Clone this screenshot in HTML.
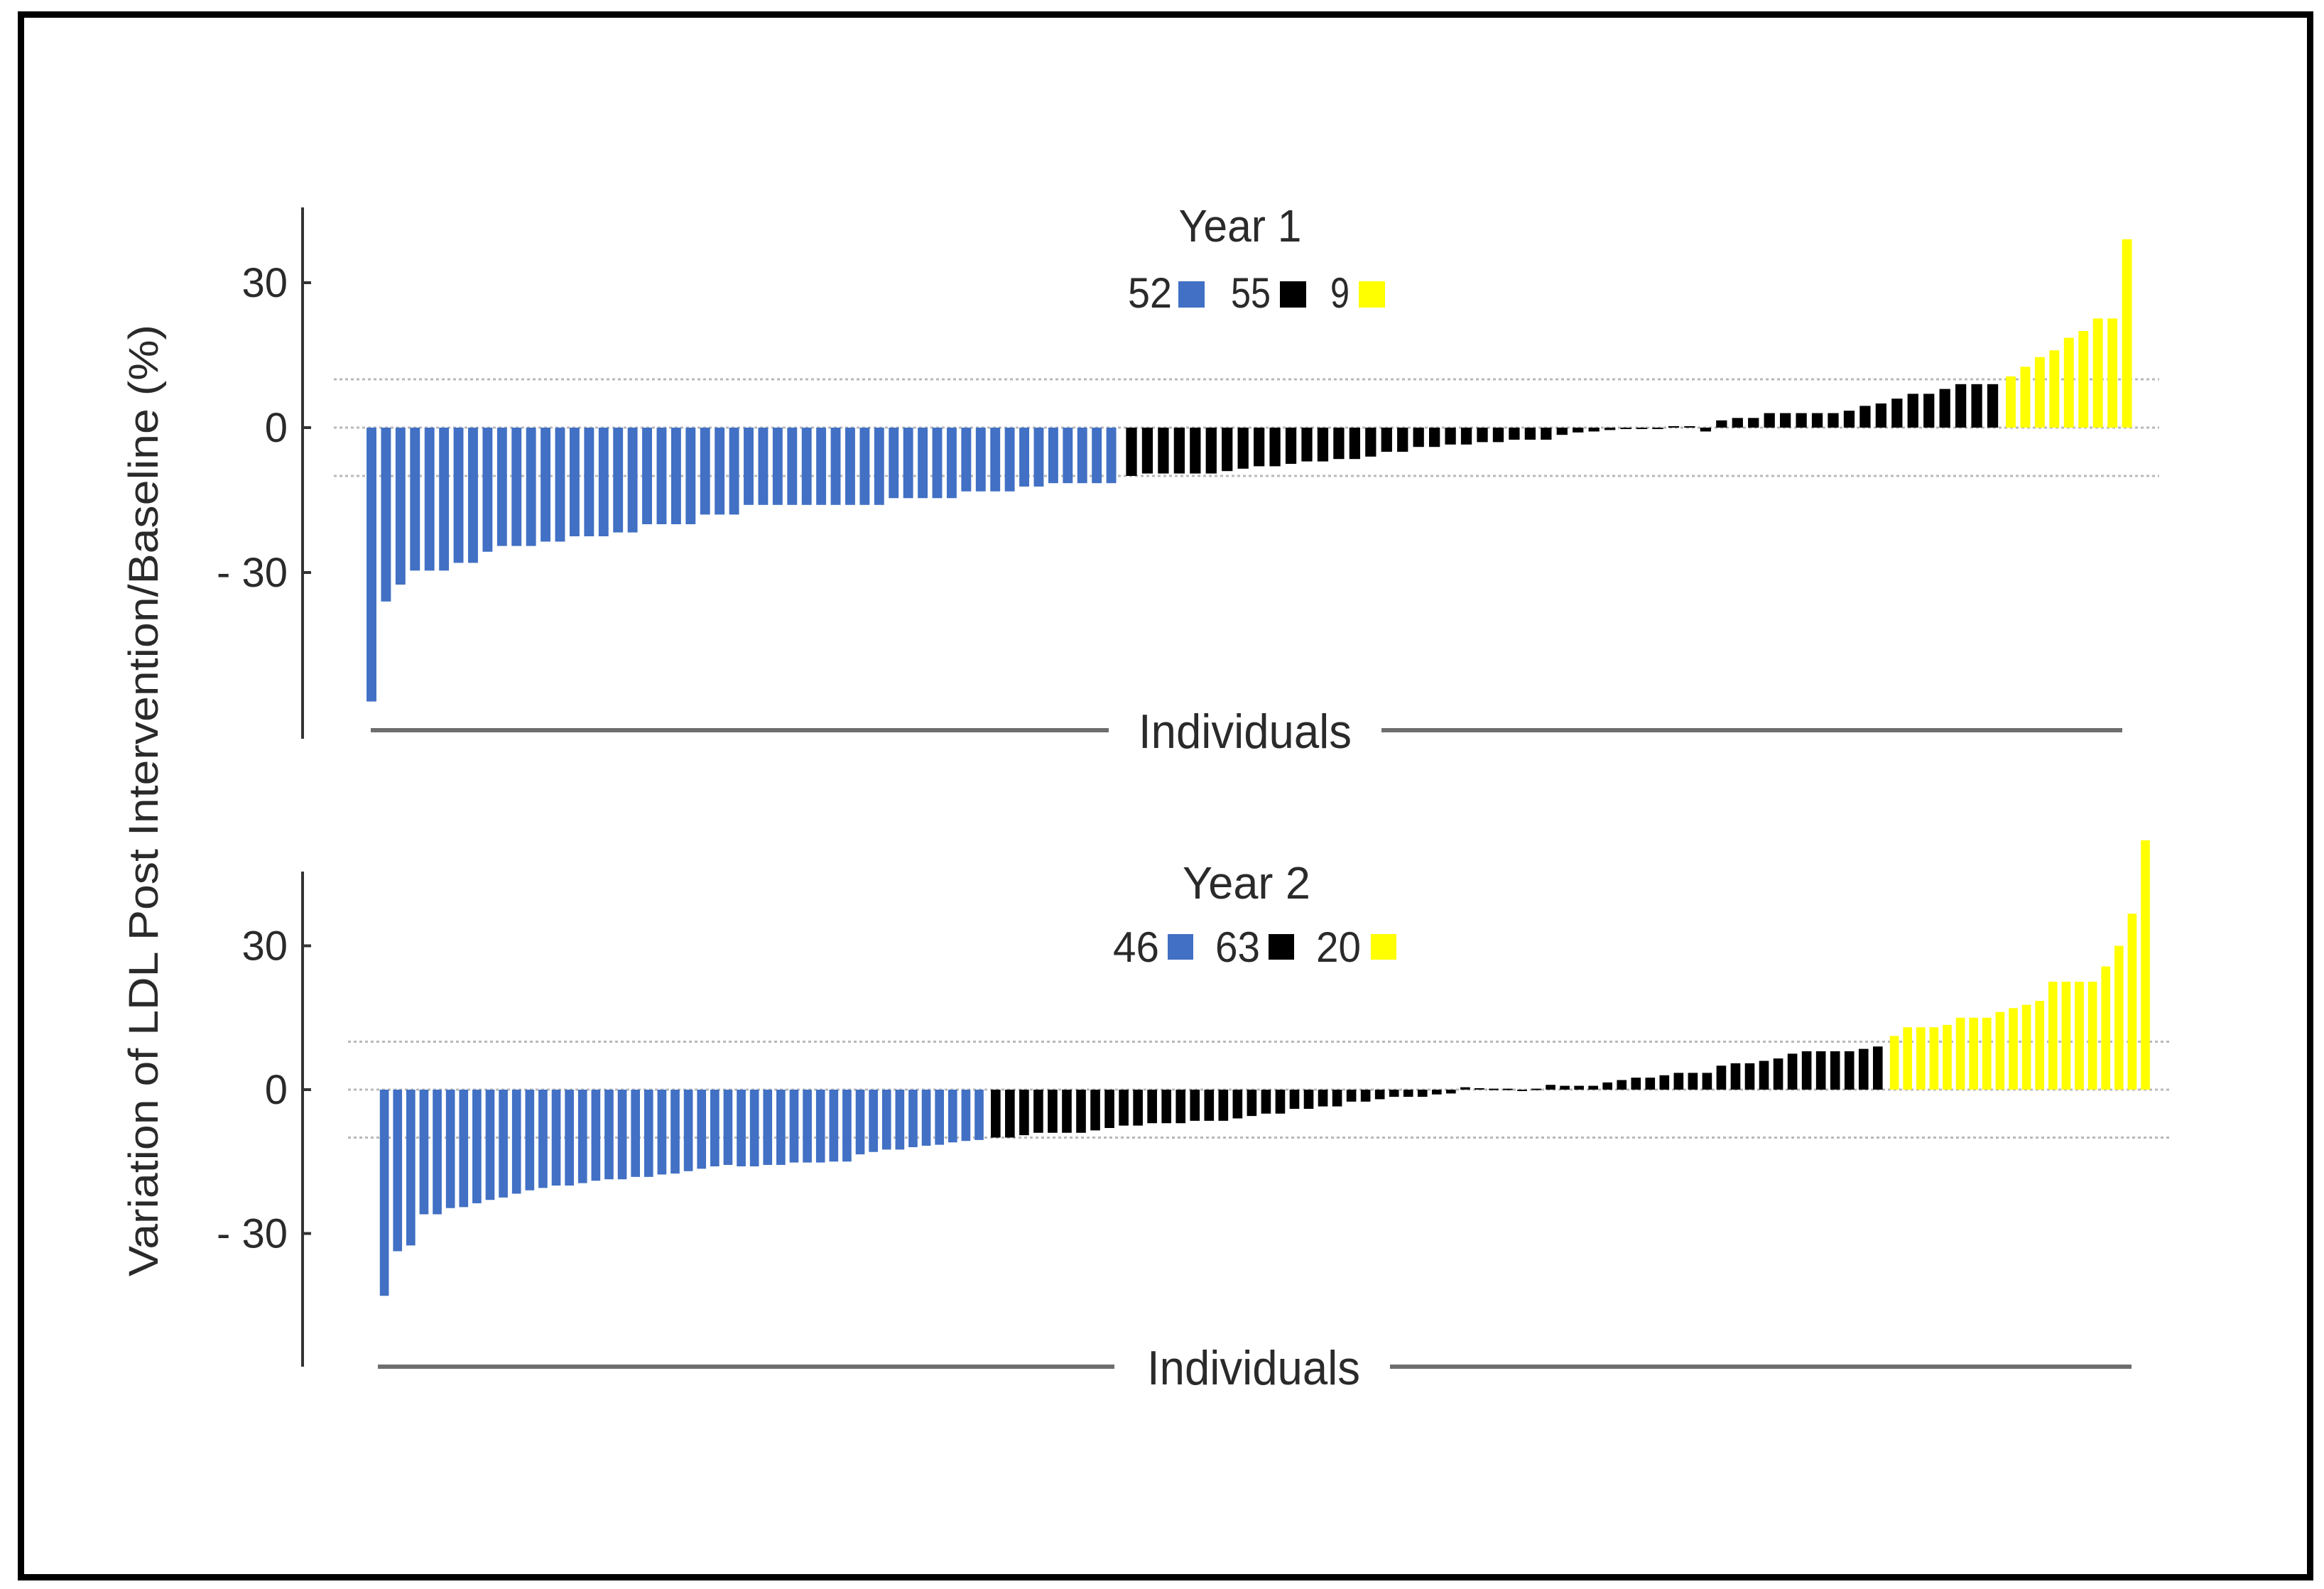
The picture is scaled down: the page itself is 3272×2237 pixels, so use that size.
<!DOCTYPE html>
<html><head><meta charset="utf-8"><style>
html,body{margin:0;padding:0;background:#fff}
svg{display:block}
text{font-family:"Liberation Sans",sans-serif;fill:#2a2a2a}
</style></head><body>
<svg id="chart" width="3272" height="2237" viewBox="0 0 3272 2237" xmlns="http://www.w3.org/2000/svg">
<rect x="29.5" y="20.5" width="3223" height="2200" fill="none" stroke="#000" stroke-width="9"/>
<text transform="translate(222,1127) rotate(-90)" text-anchor="middle" font-size="58" textLength="1340" lengthAdjust="spacingAndGlyphs">Variation of LDL Post Intervention/Baseline (%)</text>
<g id="p1"></g>
<g id="p2"></g>
</svg>
<script>
const year1Blue=[-56.7,-36,-32.5,-29.6,-29.6,-29.6,-28,-28,-25.7,-24.5,-24.5,-24.5,-23.6,-23.6,-22.5,-22.5,-22.5,-21.7,-21.7,-20,-20,-20,-20,-18,-18,-18,-16,-16,-16,-16,-16,-16,-16,-16,-16,-16,-14.6,-14.6,-14.6,-14.6,-14.6,-13.2,-13.2,-13.2,-13.2,-12.2,-12.2,-11.5,-11.5,-11.5,-11.5,-11.5];
const year1Black=[-10,-9.5,-9.5,-9.5,-9.5,-9.5,-9,-8.5,-8,-8,-7.5,-7,-7,-6.5,-6.5,-6,-5,-5,-4,-4,-3.5,-3.5,-3,-3,-2.5,-2.5,-2.5,-1.5,-1,-0.8,-0.5,-0.3,-0.3,-0.3,0.3,0.3,-0.8,1.5,2,2,3,3,3,3,3,3.5,4.5,5,6,7,7,8,9,9,9];
const year1Yellow=[10.6,12.6,14.6,16,18.6,20,22.6,22.6,39];
const year2Blue=[-43,-33.7,-32.5,-26,-26,-24.7,-24.5,-23.7,-23,-22.5,-21.7,-21,-20.5,-20,-20,-19.5,-19,-18.7,-18.7,-18.2,-18.2,-17.7,-17.5,-17,-16.5,-16,-15.7,-16,-16,-15.7,-15.7,-15.2,-15.2,-15.2,-15,-15,-13.5,-13,-12.5,-12.5,-12,-11.7,-11.5,-11,-10.7,-10.5];
const year2Black=[-10,-10,-9.5,-9,-9,-9,-9,-8.5,-8,-7.5,-7.5,-7,-7,-7,-6.5,-6.5,-6.5,-6,-5.5,-5,-5,-4,-4,-3.5,-3.5,-2.5,-2.5,-2,-1.5,-1.5,-1.5,-1,-0.8,0.5,0.3,0.2,0.2,-0.3,0.2,1,0.8,0.8,0.8,1.5,2,2.5,2.5,3,3.5,3.5,3.5,5,5.5,5.5,6,6.5,7.5,8,8,8,8,8.5,9];
const year2Yellow=[11.2,13,13,13,13.5,15,15,15,16.2,17,17.7,18.5,22.5,22.5,22.5,22.5,25.7,30,36.7,52];
const yTicks=[30,0,-30];
const yTickLabels=["30","0","- 30"];
const panelTitles=["Year 1","Year 2"];

const NS="http://www.w3.org/2000/svg";
function mk(parent,tag,attrs,txt){const e=document.createElementNS(NS,tag);for(const k in attrs)e.setAttribute(k,attrs[k]);if(txt!==undefined)e.textContent=txt;parent.appendChild(e);return e;}

const cfg=[
 {g:'p1',zero:602,ppu:6.8,axTop:292,axBot:1040,
  ranges:[[513,1575],[1582,2817],[2821,3005]],dotX0:470,dotX1:3040,
  series:[year1Blue,year1Black,year1Yellow],
  title:{x:1746,y:340,len:173},
  leg:[{tx:1650,len:62,sx:1659},{tx:1789,len:56,sx:1802},{tx:1900,len:27,sx:1913}],legY:433,sqY:396,sq:37,
  indY:1020,indL:[522,1561],indR:[1945,2988],indX:1753},
 {g:'p2',zero:1534,ppu:6.75,axTop:1227,axBot:1924,
  ranges:[[532,1388],[1392,2654],[2658,3030]],dotX0:490,dotX1:3057,
  series:[year2Blue,year2Black,year2Yellow],
  title:{x:1755,y:1265,len:180},
  leg:[{tx:1632,len:65,sx:1644},{tx:1774,len:63,sx:1786},{tx:1916,len:63,sx:1930}],legY:1354,sqY:1315,sq:36,
  indY:1916,indL:[532,1569],indR:[1957,3001],indX:1765}
];
const colors=["#4170c4","#000000","#ffff00"];
const seriesNames=["decrease-group","stable-group","increase-group"];

cfg.forEach((c,pi)=>{
  const g=document.getElementById(c.g);
  const yScale=v=>c.zero-v*c.ppu;
  [10,0,-10].forEach(v=>{
    const l=mk(g,'line',{x1:c.dotX0,x2:c.dotX1,y1:yScale(v),y2:yScale(v),stroke:'#b8b8b8','stroke-width':3,'stroke-dasharray':'4 4'});
    
    
  });
  c.series.forEach((s,si)=>{
    const r0=c.ranges[si][0],r1=c.ranges[si][1];
    const step=(r1-r0)/s.length;
    const xScale=i=>r0+i*step;
    s.forEach((v,i)=>{
      const y0=yScale(0),y1=yScale(v);
      const r=mk(g,'rect',{x:xScale(i)+step*0.15,y:Math.min(y0,y1),width:step*0.68,height:Math.max(Math.abs(y1-y0),2),fill:colors[si]});
      
      
    });
  });
  const ax=mk(g,'line',{x1:426,x2:426,y1:c.axTop,y2:c.axBot,stroke:'#333','stroke-width':4});
  
  
  yTicks.forEach((t,ti)=>{
    const tk=mk(g,'line',{x1:424,x2:438,y1:yScale(t),y2:yScale(t),stroke:'#333','stroke-width':4});
    
    
    const tl=mk(g,'text',{x:405,y:yScale(t)+20,'text-anchor':'end','font-size':58},yTickLabels[ti]);
    
    
  });
  const tt=mk(g,'text',{x:c.title.x,y:c.title.y,'text-anchor':'middle','font-size':64,textLength:c.title.len,lengthAdjust:'spacingAndGlyphs'},panelTitles[pi]);
  
  
  c.leg.forEach((L,li)=>{
    const cnt=c.series[li].length;
    const lt=mk(g,'text',{x:L.tx,y:c.legY,'text-anchor':'end','font-size':60,textLength:L.len,lengthAdjust:'spacingAndGlyphs'},String(cnt));
    
    
    const sq=mk(g,'rect',{x:L.sx,y:c.sqY,width:c.sq,height:c.sq,fill:colors[li]});
    
    
  });
  [c.indL,c.indR].forEach(seg=>{
    const l=mk(g,'line',{x1:seg[0],x2:seg[1],y1:c.indY+8,y2:c.indY+8,stroke:'#6e6e6e','stroke-width':6});
    
    
  });
  const it=mk(g,'text',{x:c.indX,y:c.indY+33,'text-anchor':'middle','font-size':68,textLength:300,lengthAdjust:'spacingAndGlyphs'},'Individuals');
  
  
});
</script>
</body></html>
